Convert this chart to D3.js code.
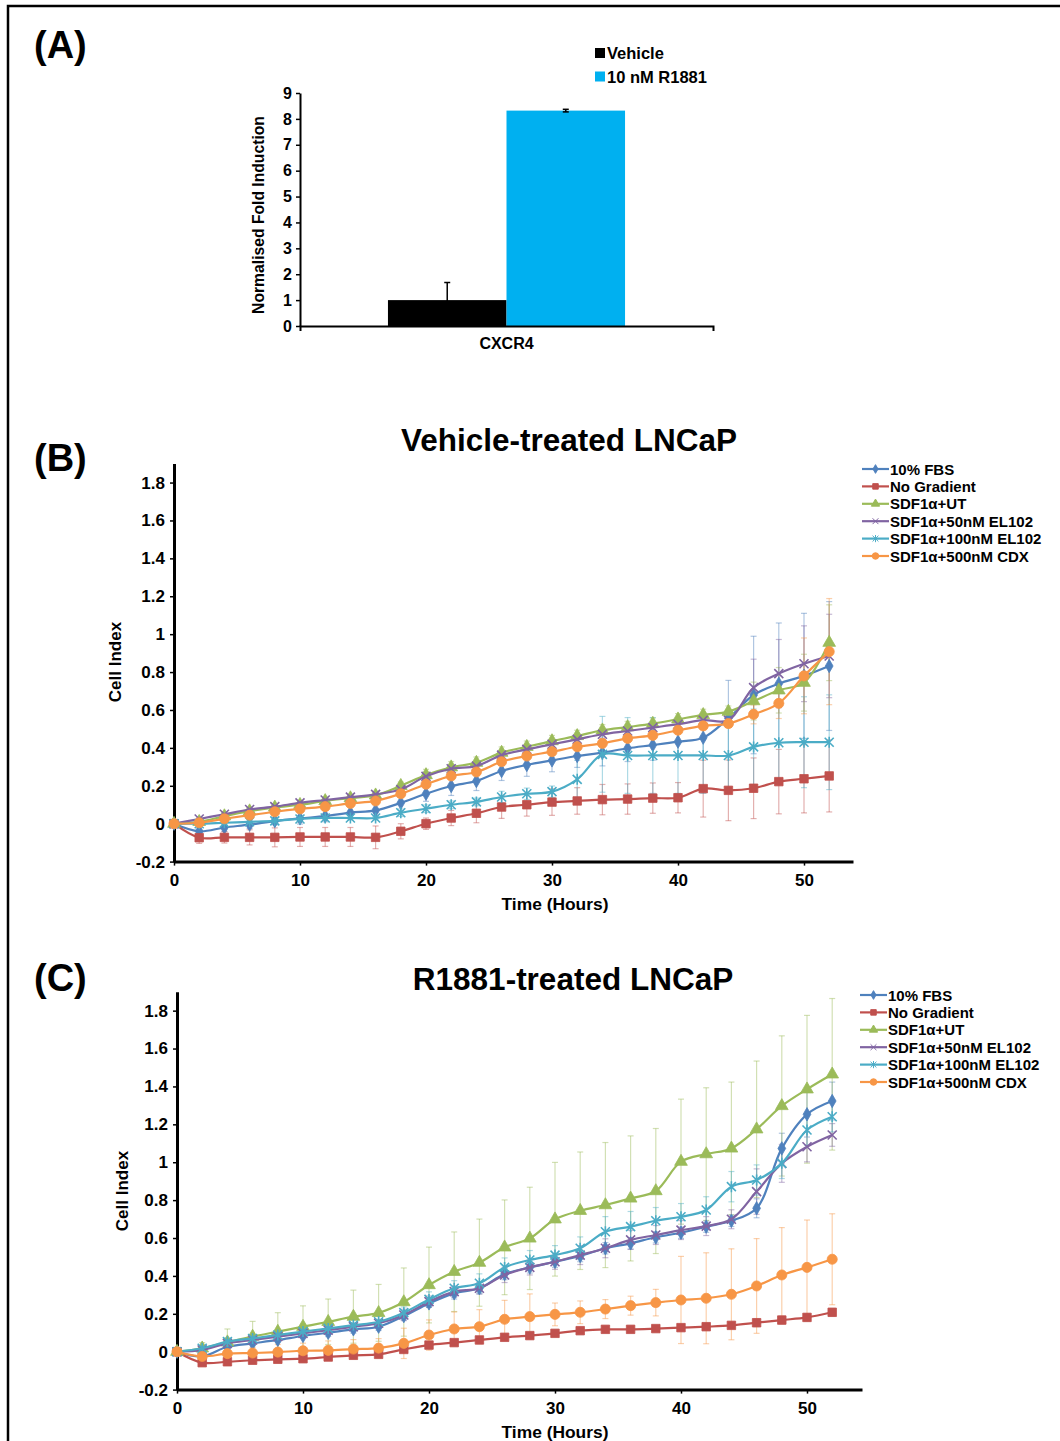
<!DOCTYPE html>
<html>
<head>
<meta charset="utf-8">
<script src="https://cdn.jsdelivr.net/npm/d3@7"></script>
<style>
  body { margin: 0; background: #fff; }
  text { font-family: "Liberation Sans", Arial, sans-serif; font-weight: bold; fill: #000; }
</style>
</head>
<body>
<svg id="chart"></svg>
<script>
const width = 1060;
const height = 1441;

// ---- Panel A data ----
const aGroups = ["CXCR4"];
const aSeries = ["Vehicle", "10 nM R1881"];
const aValues = [1.0, 8.32];
const aErrors = [0.68, 0.05];
const aColors = ["#000000", "#00B0F0"];
const aTicks = [0, 1, 2, 3, 4, 5, 6, 7, 8, 9];

// ---- Panels B/C data ----
const hours = [0, 2, 4, 6, 8, 10, 12, 14, 16, 18, 20, 22, 24, 26, 28, 30, 32, 34, 36, 38, 40, 42, 44, 46, 48, 50, 52];
const seriesNames = ["10% FBS", "No Gradient", "SDF1\u03b1+UT", "SDF1\u03b1+50nM EL102", "SDF1\u03b1+100nM EL102", "SDF1\u03b1+500nM CDX"];
const seriesColors = ["#4F81BD", "#C0504D", "#9BBB59", "#8064A2", "#4BACC6", "#F79646"];
const seriesMarkers = ["diamond", "square", "triangle", "cross", "star", "circle"];
const xTicks = [0, 10, 20, 30, 40, 50];
const yTicks = [-0.2, 0, 0.2, 0.4, 0.6, 0.8, 1, 1.2, 1.4, 1.6, 1.8];

// Vehicle-treated
const vehFBS  = [0, -0.04, -0.02, -0.005, 0.014, 0.028, 0.04, 0.058, 0.07, 0.11, 0.158, 0.199, 0.225, 0.278, 0.31, 0.334, 0.357, 0.375, 0.398, 0.415, 0.433, 0.454, 0.556, 0.679, 0.739, 0.78, 0.832];
const vehNoG  = [0, -0.074, -0.072, -0.072, -0.072, -0.07, -0.07, -0.07, -0.072, -0.04, 0.0, 0.03, 0.055, 0.088, 0.1, 0.114, 0.12, 0.127, 0.13, 0.135, 0.137, 0.185, 0.176, 0.187, 0.222, 0.237, 0.252];
const vehUT   = [0, 0.01, 0.04, 0.066, 0.086, 0.1, 0.12, 0.135, 0.15, 0.2, 0.257, 0.298, 0.322, 0.375, 0.406, 0.436, 0.463, 0.493, 0.51, 0.528, 0.551, 0.574, 0.591, 0.647, 0.704, 0.744, 0.955];
const veh50   = [0, 0.025, 0.05, 0.075, 0.09, 0.11, 0.125, 0.14, 0.155, 0.18, 0.25, 0.29, 0.304, 0.362, 0.392, 0.419, 0.445, 0.472, 0.489, 0.507, 0.525, 0.546, 0.546, 0.718, 0.792, 0.844, 0.885];
const veh100  = [0, 0.0, 0.005, 0.01, 0.015, 0.025, 0.03, 0.03, 0.03, 0.058, 0.079, 0.1, 0.115, 0.141, 0.158, 0.169, 0.234, 0.366, 0.36, 0.36, 0.36, 0.36, 0.36, 0.405, 0.427, 0.43, 0.43];
const vehCDX  = [0, 0.005, 0.026, 0.045, 0.063, 0.078, 0.09, 0.107, 0.12, 0.158, 0.208, 0.252, 0.273, 0.327, 0.357, 0.38, 0.406, 0.424, 0.45, 0.466, 0.493, 0.516, 0.528, 0.577, 0.635, 0.78, 0.908];

const vehFBSErr = [0, 0.02, 0.02, 0.02, 0.02, 0.03, 0.03, 0.03, 0.03, 0.04, 0.04, 0.05, 0.05, 0.05, 0.06, 0.06, 0.06, 0.07, 0.07, 0.08, 0.08, 0.1, 0.2, 0.31, 0.32, 0.33, 0.34];
const vehNoGErr = [0, 0.03, 0.03, 0.04, 0.05, 0.05, 0.05, 0.05, 0.06, 0.04, 0.03, 0.04, 0.05, 0.06, 0.06, 0.07, 0.07, 0.08, 0.08, 0.08, 0.08, 0.15, 0.16, 0.16, 0.17, 0.18, 0.19];
const vehUTErr  = [0, 0.02, 0.02, 0.02, 0.02, 0.02, 0.02, 0.02, 0.02, 0.02, 0.03, 0.03, 0.03, 0.03, 0.03, 0.03, 0.03, 0.03, 0.03, 0.03, 0.03, 0.03, 0.03, 0.1, 0.12, 0.15, 0.2];
const veh50Err  = [0, 0.01, 0.01, 0.01, 0.01, 0.01, 0.01, 0.01, 0.01, 0.02, 0.02, 0.02, 0.02, 0.02, 0.02, 0.02, 0.02, 0.02, 0.02, 0.02, 0.02, 0.02, 0.02, 0.15, 0.18, 0.2, 0.22];
const veh100Err = [0, 0.01, 0.01, 0.01, 0.01, 0.01, 0.01, 0.01, 0.01, 0.02, 0.02, 0.02, 0.02, 0.03, 0.03, 0.03, 0.1, 0.2, 0.2, 0.2, 0.2, 0.2, 0.2, 0.2, 0.22, 0.24, 0.25];
const vehCDXErr = [0, 0.01, 0.01, 0.01, 0.01, 0.01, 0.01, 0.01, 0.01, 0.02, 0.02, 0.02, 0.02, 0.02, 0.02, 0.02, 0.02, 0.02, 0.02, 0.02, 0.02, 0.02, 0.02, 0.05, 0.08, 0.2, 0.28];

// R1881-treated
const rFBS  = [0, -0.025, 0.026, 0.044, 0.062, 0.083, 0.1, 0.118, 0.132, 0.188, 0.255, 0.308, 0.335, 0.41, 0.445, 0.475, 0.505, 0.546, 0.572, 0.604, 0.628, 0.66, 0.691, 0.757, 1.073, 1.253, 1.323];
const rNoG  = [0, -0.058, -0.053, -0.045, -0.04, -0.037, -0.028, -0.019, -0.014, 0.012, 0.035, 0.048, 0.062, 0.076, 0.085, 0.097, 0.111, 0.118, 0.118, 0.122, 0.127, 0.132, 0.139, 0.153, 0.167, 0.181, 0.208];
const rUT   = [0, 0.018, 0.05, 0.08, 0.106, 0.132, 0.158, 0.185, 0.205, 0.262, 0.352, 0.422, 0.47, 0.551, 0.598, 0.699, 0.744, 0.774, 0.809, 0.848, 1.003, 1.043, 1.073, 1.174, 1.297, 1.385, 1.464];
const r50   = [0, 0.01, 0.044, 0.062, 0.08, 0.097, 0.114, 0.132, 0.15, 0.194, 0.264, 0.317, 0.335, 0.405, 0.445, 0.475, 0.51, 0.546, 0.59, 0.616, 0.642, 0.663, 0.699, 0.845, 0.994, 1.082, 1.144];
const r100  = [0, 0.018, 0.053, 0.07, 0.088, 0.106, 0.123, 0.14, 0.158, 0.206, 0.276, 0.335, 0.361, 0.445, 0.484, 0.51, 0.546, 0.633, 0.66, 0.691, 0.712, 0.748, 0.871, 0.906, 0.994, 1.17, 1.24];
const rCDX  = [0, -0.025, -0.01, -0.007, -0.002, 0.005, 0.007, 0.014, 0.019, 0.044, 0.088, 0.12, 0.132, 0.171, 0.185, 0.197, 0.208, 0.225, 0.243, 0.259, 0.273, 0.282, 0.303, 0.347, 0.405, 0.445, 0.488];

const rFBSErr = [0, 0.01, 0.01, 0.01, 0.01, 0.01, 0.02, 0.02, 0.02, 0.02, 0.02, 0.03, 0.03, 0.03, 0.03, 0.03, 0.03, 0.03, 0.03, 0.03, 0.03, 0.03, 0.03, 0.05, 0.08, 0.12, 0.1];
const rNoGErr = [0, 0.01, 0.01, 0.01, 0.01, 0.01, 0.01, 0.01, 0.01, 0.01, 0.01, 0.01, 0.01, 0.01, 0.01, 0.01, 0.01, 0.01, 0.01, 0.01, 0.01, 0.01, 0.01, 0.02, 0.02, 0.02, 0.02];
const rUTErr  = [0, 0.03, 0.07, 0.08, 0.1, 0.11, 0.12, 0.14, 0.15, 0.18, 0.2, 0.21, 0.23, 0.25, 0.27, 0.3, 0.31, 0.33, 0.33, 0.33, 0.33, 0.35, 0.35, 0.36, 0.37, 0.39, 0.4];
const r50Err  = [0, 0.01, 0.02, 0.02, 0.02, 0.02, 0.02, 0.02, 0.02, 0.03, 0.03, 0.03, 0.03, 0.04, 0.04, 0.04, 0.05, 0.05, 0.05, 0.05, 0.05, 0.05, 0.05, 0.12, 0.1, 0.08, 0.06];
const r100Err = [0, 0.01, 0.02, 0.02, 0.02, 0.02, 0.03, 0.03, 0.03, 0.03, 0.04, 0.04, 0.05, 0.05, 0.05, 0.05, 0.06, 0.08, 0.08, 0.07, 0.07, 0.07, 0.08, 0.08, 0.08, 0.08, 0.08];
const rCDXErr = [0, 0.02, 0.03, 0.03, 0.04, 0.04, 0.05, 0.05, 0.05, 0.08, 0.08, 0.09, 0.09, 0.1, 0.12, 0.06, 0.06, 0.05, 0.05, 0.07, 0.23, 0.24, 0.24, 0.25, 0.25, 0.25, 0.24];

const svg = d3.select("#chart")
    .attr("width", width)
    .attr("height", height);

svg.append("rect").attr("width", width).attr("height", height).attr("fill", "#fff");

// frame round the figure
svg.append("rect")
    .attr("x", 8).attr("y", 6)
    .attr("width", 1100).attr("height", 1500)
    .attr("fill", "none").attr("stroke", "#000").attr("stroke-width", 2.5);

function styleAxis(g, lw) {
    g.select(".domain").attr("stroke", "#000").attr("stroke-width", lw);
    g.selectAll(".tick line").attr("stroke", "#000").attr("stroke-width", 1.5);
    g.selectAll(".tick text").attr("fill", "#000");
}

// ================= Panel A =================
svg.append("text").attr("x", 34).attr("y", 58).attr("font-size", 38).text("(A)");

const ax0 = d3.scaleBand().domain(aGroups).range([300, 713]).paddingInner(0).paddingOuter(0.371);
const ax1 = d3.scaleBand().domain(aSeries).range([0, ax0.bandwidth()]);
const ay = d3.scaleLinear().domain([0, 9]).range([326, 93]);

const gA = svg.append("g");

gA.selectAll(".barA")
    .data(aSeries)
    .enter().append("rect")
    .attr("x", (d) => ax0("CXCR4") + ax1(d))
    .attr("y", (d, i) => ay(aValues[i]))
    .attr("width", ax1.bandwidth())
    .attr("height", (d, i) => ay(0) - ay(aValues[i]))
    .attr("fill", (d, i) => aColors[i]);

const errA = gA.selectAll(".errA")
    .data(aSeries)
    .enter().append("g")
    .attr("transform", d => `translate(${ax0("CXCR4") + ax1(d) + ax1.bandwidth() / 2},0)`);
errA.append("line")
    .attr("y1", (d, i) => ay(aValues[i] - aErrors[i]))
    .attr("y2", (d, i) => ay(aValues[i] + aErrors[i]))
    .attr("stroke", "#000").attr("stroke-width", 1.5);
errA.append("line")
    .attr("x1", -3).attr("x2", 3)
    .attr("y1", (d, i) => ay(aValues[i] + aErrors[i]))
    .attr("y2", (d, i) => ay(aValues[i] + aErrors[i]))
    .attr("stroke", "#000").attr("stroke-width", 1.5);
errA.append("line")
    .attr("x1", -3).attr("x2", 3)
    .attr("y1", (d, i) => ay(aValues[i] - aErrors[i]))
    .attr("y2", (d, i) => ay(aValues[i] - aErrors[i]))
    .attr("stroke", "#000").attr("stroke-width", 1.5);

gA.append("g")
    .attr("transform", "translate(300,0)")
    .call(d3.axisLeft(ay).tickValues(aTicks).tickSizeInner(4).tickSizeOuter(0).tickPadding(4))
    .call(g => g.selectAll("text").attr("font-size", 16))
    .call(g => styleAxis(g, 2));

gA.append("g")
    .attr("transform", "translate(0,326)")
    .call(d3.axisBottom(ax0).tickSizeInner(0).tickSizeOuter(5).tickPadding(12))
    .call(g => g.selectAll("text").attr("font-size", 16))
    .call(g => styleAxis(g, 2));

gA.append("text")
    .attr("transform", "translate(264,215) rotate(-90)")
    .attr("text-anchor", "middle")
    .attr("font-size", 15.7)
    .text("Normalised Fold Induction");

const legA = gA.selectAll(".legA")
    .data(aSeries)
    .enter().append("g")
    .attr("transform", (d, i) => `translate(595,${53 + i * 23.5})`);
legA.append("rect")
    .attr("x", 0).attr("y", -5).attr("width", 10).attr("height", 10)
    .attr("fill", (d, i) => aColors[i]);
legA.append("text")
    .attr("x", 12).attr("y", 6)
    .attr("font-size", 16.5)
    .text(d => d);

// ================= Panels B and C =================
function markerPath(type) {
    if (type === "diamond") return d3.symbol().type(d3.symbolDiamond).size(52)();
    if (type === "square") return d3.symbol().type(d3.symbolSquare).size(72)();
    if (type === "triangle") return d3.symbol().type(d3.symbolTriangle).size(70)();
    if (type === "circle") return d3.symbol().type(d3.symbolCircle).size(80)();
    if (type === "cross") return "M-4.5,-4.5L4.5,4.5M-4.5,4.5L4.5,-4.5";
    return "M-4.5,-4.5L4.5,4.5M-4.5,4.5L4.5,-4.5M0,-5.5L0,5.5";
}
function isStroked(type) { return type === "cross" || type === "star"; }

function drawPanel(p) {
    const g = svg.append("g");

    svg.append("text").attr("x", 34).attr("y", p.labelY).attr("font-size", 38).text(p.label);

    g.append("text")
        .attr("x", p.titleX).attr("y", p.titleY)
        .attr("text-anchor", "middle")
        .attr("font-size", 31.5)
        .text(p.title);

    const x = d3.scaleLinear().domain([0, p.xEnd]).range([p.left, p.right]);
    const y = d3.scaleLinear().domain([-0.2, 1.9]).range([p.bottom, p.top]);

    g.append("g")
        .attr("transform", `translate(${p.left},0)`)
        .call(d3.axisLeft(y).tickValues(yTicks).tickSizeInner(4).tickSizeOuter(0).tickPadding(5)
            .tickFormat(d => String(+d.toFixed(1))))
        .call(a => a.selectAll("text").attr("font-size", 17))
        .call(a => styleAxis(a, 3));

    g.append("g")
        .attr("transform", `translate(0,${p.bottom})`)
        .call(d3.axisBottom(x).tickValues(xTicks).tickSizeInner(4).tickSizeOuter(0).tickPadding(8))
        .call(a => a.selectAll("text").attr("font-size", 17))
        .call(a => styleAxis(a, 3));

    g.append("text")
        .attr("x", 555).attr("y", p.bottom + 48)
        .attr("text-anchor", "middle")
        .attr("font-size", 17.4)
        .text("Time (Hours)");

    g.append("text")
        .attr("transform", `translate(${p.ylabX},${p.ylabY}) rotate(-90)`)
        .attr("text-anchor", "middle")
        .attr("font-size", 17)
        .text("Cell Index");

    // error bars first
    p.series.forEach((vals, si) => {
        const errs = p.errors[si];
        const eg = g.append("g")
            .attr("stroke", seriesColors[si])
            .attr("stroke-opacity", 0.45)
            .attr("stroke-width", 1.2);
        hours.forEach((h, i) => {
            if (errs[i] <= 0) return;
            const cx = x(h);
            const y1 = y(vals[i] - errs[i]);
            const y2 = y(vals[i] + errs[i]);
            eg.append("line").attr("x1", cx).attr("x2", cx).attr("y1", y1).attr("y2", y2);
            eg.append("line").attr("x1", cx - 3).attr("x2", cx + 3).attr("y1", y1).attr("y2", y1);
            eg.append("line").attr("x1", cx - 3).attr("x2", cx + 3).attr("y1", y2).attr("y2", y2);
        });
    });

    const line = d3.line()
        .x((d, i) => x(hours[i]))
        .y(d => y(d))
        .curve(d3.curveCatmullRom.alpha(0.5));

    p.series.forEach((vals, si) => {
        g.append("path")
            .datum(vals)
            .attr("fill", "none")
            .attr("stroke", seriesColors[si])
            .attr("stroke-width", 2.2)
            .attr("d", line);

        const type = seriesMarkers[si];
        g.selectAll(null)
            .data(vals)
            .enter().append("path")
            .attr("transform", (d, i) => `translate(${x(hours[i])},${y(d)})`)
            .attr("d", markerPath(type))
            .attr("fill", isStroked(type) ? "none" : seriesColors[si])
            .attr("stroke", seriesColors[si])
            .attr("stroke-width", isStroked(type) ? 1.6 : 0.8);
    });

    // legend
    const leg = g.selectAll(".leg")
        .data(seriesNames)
        .enter().append("g")
        .attr("transform", (d, i) => `translate(${p.legX},${p.legY + i * 17.4})`);
    leg.append("line")
        .attr("x1", 0).attr("x2", 27)
        .attr("stroke", (d, i) => seriesColors[i])
        .attr("stroke-width", 2.2);
    leg.append("path")
        .attr("transform", "translate(13.5,0) scale(0.65)")
        .attr("d", (d, i) => markerPath(seriesMarkers[i]))
        .attr("fill", (d, i) => isStroked(seriesMarkers[i]) ? "none" : seriesColors[i])
        .attr("stroke", (d, i) => seriesColors[i])
        .attr("stroke-width", 1.5);
    leg.append("text")
        .attr("x", 28).attr("y", 5.5)
        .attr("font-size", 15)
        .text(d => d);
}

drawPanel({
    label: "(B)", labelY: 471,
    title: "Vehicle-treated LNCaP", titleX: 569, titleY: 451,
    left: 174, right: 853, top: 463.6, bottom: 861.6,
    xEnd: (853 - 174) / 12.6,
    ylabX: 121, ylabY: 662,
    legX: 862, legY: 469,
    series: [vehFBS, vehNoG, vehUT, veh50, veh100, vehCDX],
    errors: [vehFBSErr, vehNoGErr, vehUTErr, veh50Err, veh100Err, vehCDXErr]
});

drawPanel({
    label: "(C)", labelY: 991,
    title: "R1881-treated LNCaP", titleX: 573, titleY: 990,
    left: 177, right: 862, top: 991.7, bottom: 1389.6,
    xEnd: (862 - 177) / 12.6,
    ylabX: 128, ylabY: 1191,
    legX: 860, legY: 995,
    series: [rFBS, rNoG, rUT, r50, r100, rCDX],
    errors: [rFBSErr, rNoGErr, rUTErr, r50Err, r100Err, rCDXErr]
});
</script>
</body>
</html>
